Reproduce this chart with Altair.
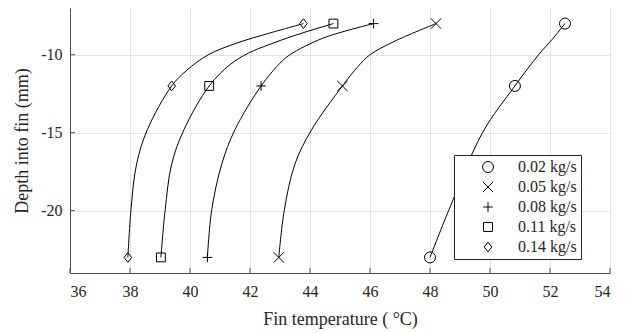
import altair as alt
import pandas as pd

# ---------------- data ----------------
series_names = ["0.02 kg/s", "0.05 kg/s", "0.08 kg/s", "0.11 kg/s", "0.14 kg/s"]

# measured points (markers)
marker_depth = [-8, -12, -23]
marker_temp_002 = [52.5, 50.83, 48.0]
marker_temp_005 = [48.2, 45.08, 42.96]
marker_temp_008 = [46.12, 42.37, 40.58]
marker_temp_011 = [44.78, 40.64, 39.03]
marker_temp_014 = [43.78, 39.39, 37.93]

# points
curve_002_depth = [-23, -20, -15, -12, -10, -9.04, -8]
curve_002_temp = [48.0, 48.62, 49.75, 50.83, 51.62, 52.06, 52.5]

curve_005_depth = [-23, -20, -17, -14.82, -12, -10.75, -10, -9.15, -8]
curve_005_temp = [42.96, 43.14, 43.5, 44.05, 45.08, 45.6, 46.0, 46.8, 48.2]

curve_008_depth = [-23, -20, -17, -14.8, -12, -10.54, -10, -8.93, -8]
curve_008_temp = [40.58, 40.72, 41.06, 41.5, 42.37, 43.0, 43.33, 44.44, 46.12]

curve_011_depth = [-23, -20, -17, -14.8, -12, -10.64, -9.89, -9.36, -8.82, -8.39, -8]
curve_011_temp = [39.03, 39.17, 39.39, 39.8, 40.64, 41.33, 41.95, 42.62, 43.4, 44.1, 44.78]

curve_014_depth = [-23, -20, -17, -14.8, -12, -11, -10, -9.25, -8.6, -8]
curve_014_temp = [37.93, 38.03, 38.22, 38.58, 39.39, 39.89, 40.61, 41.56, 42.67, 43.78]

x_ticks = [36, 38, 40, 42, 44, 46, 48, 50, 52, 54]
y_ticks = [-20, -15, -10]

# ---------------- tables ----------------
marker_temps = [marker_temp_002, marker_temp_005, marker_temp_008, marker_temp_011, marker_temp_014]
curves = [
    (curve_002_depth, curve_002_temp),
    (curve_005_depth, curve_005_temp),
    (curve_008_depth, curve_008_temp),
    (curve_011_depth, curve_011_temp),
    (curve_014_depth, curve_014_temp),
]

markers = pd.DataFrame(
    [
        {"series": s, "temp": t, "depth": d}
        for s, temps in zip(series_names, marker_temps)
        for t, d in zip(temps, marker_depth)
    ]
)
lines = pd.DataFrame(
    [
        {"series": s, "temp": t, "depth": d}
        for s, (ds, ts) in zip(series_names, curves)
        for t, d in zip(ts, ds)
    ]
)
xt = pd.DataFrame({"tick": x_ticks})
yt = pd.DataFrame({"tick": y_ticks})

FONT = "Liberation Serif"
TEXT = "#262626"
AXIS = "#4d4d4d"

x_scale = alt.Scale(domain=[36, 54], nice=False, zero=False)
y_scale = alt.Scale(domain=[-24, -7], nice=False, zero=False)

x_axis = alt.Axis(
    values=x_ticks,
    title="Fin temperature ( °C)",
    grid=True,
    ticks=False,
    labelPadding=10,
    titlePadding=11,
)
y_axis = alt.Axis(
    values=y_ticks,
    labelExpr="'' + datum.value",
    title="Depth into fin (mm)",
    grid=True,
    ticks=False,
    labelPadding=8,
    titlePadding=9,
)

shape_range = [
    "circle",
    "M-1,-1L1,1M-1,1L1,-1",
    "M-1,0L1,0M0,-1L0,1",
    "square",
    "M0,-1.22L0.95,0L0,1.22L-0.95,0Z",
]
size_range = [121, 64, 100, 81, 140]

line_layer = (
    alt.Chart(lines)
    .mark_line(color="black", strokeWidth=1, interpolate="catmull-rom")
    .encode(
        x=alt.X("temp:Q", scale=x_scale, axis=x_axis),
        y=alt.Y("depth:Q", scale=y_scale, axis=y_axis),
        detail="series:N",
        order=alt.Order("depth:Q"),
    )
)

point_layer = (
    alt.Chart(markers)
    .mark_point(filled=False, color="black", strokeWidth=1, opacity=1)
    .encode(
        x=alt.X("temp:Q", scale=x_scale),
        y=alt.Y("depth:Q", scale=y_scale),
        shape=alt.Shape(
            "series:N",
            scale=alt.Scale(domain=series_names, range=shape_range),
            legend=alt.Legend(
                title=None,
                orient="none",
                legendX=384,
                legendY=147,
                fillColor="white",
                strokeColor="#262626",
                padding=4,
                rowPadding=4,
                symbolOffset=22,
                labelOffset=22,
                symbolStrokeColor="black",
                symbolStrokeWidth=1,
                symbolFillColor="transparent",
            ),
        ),
        size=alt.Size(
            "series:N",
            scale=alt.Scale(domain=series_names, range=size_range),
        ),
    )
)

xtick_layer = (
    alt.Chart(xt)
    .mark_rule(color=AXIS, strokeWidth=1)
    .encode(x=alt.X("tick:Q", scale=x_scale), y=alt.value(265), y2=alt.value(260))
)
ytick_layer = (
    alt.Chart(yt)
    .mark_rule(color=AXIS, strokeWidth=1)
    .encode(y=alt.Y("tick:Q", scale=y_scale), x=alt.value(0), x2=alt.value(5))
)

chart = (
    alt.layer(line_layer, xtick_layer, ytick_layer, point_layer)
    .properties(
        width=540,
        height=265,
        padding={"left": 70, "top": 8, "right": 19, "bottom": 60},
        autosize=alt.AutoSizeParams(type="none"),
        background="white",
    )
    .configure_view(stroke=None)
    .configure_axis(
        labelFont=FONT,
        labelFontSize=16,
        labelColor=TEXT,
        titleFont=FONT,
        titleFontSize=18,
        titleFontWeight="normal",
        titleColor=TEXT,
        gridColor="#e4e4e4",
        gridWidth=1,
        domainColor=AXIS,
        domainWidth=1,
    )
    .configure_legend(
        labelFont=FONT,
        labelFontSize=16,
        labelColor=TEXT,
    )
)

chart.save("out.html", embed_options={"renderer": "svg", "actions": False})
